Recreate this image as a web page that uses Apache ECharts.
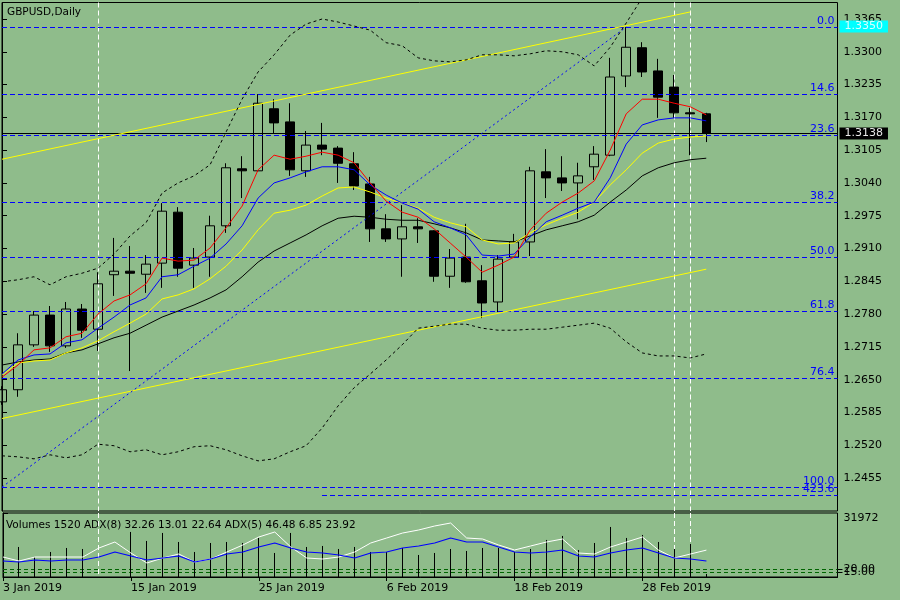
<!DOCTYPE html>
<html>
<head>
<meta charset="utf-8">
<title>GBPUSD,Daily</title>
<script src="https://cdn.jsdelivr.net/npm/echarts@6/dist/echarts.min.js"></script>
<style>
  html, body { margin: 0; padding: 0; background: #8fbc8b; }
  #root { width: 900px; height: 600px; }
</style>
</head>
<body>
<div id="root"></div>
<script>
// daily bars, 3 Jan - 6 Mar 2019
const dates = ['3 Jan 2019','4 Jan 2019','7 Jan 2019','8 Jan 2019','9 Jan 2019','10 Jan 2019','11 Jan 2019',
  '14 Jan 2019','15 Jan 2019','16 Jan 2019','17 Jan 2019','18 Jan 2019','21 Jan 2019','22 Jan 2019','23 Jan 2019',
  '24 Jan 2019','25 Jan 2019','28 Jan 2019','29 Jan 2019','30 Jan 2019','31 Jan 2019','1 Feb 2019','4 Feb 2019',
  '5 Feb 2019','6 Feb 2019','7 Feb 2019','8 Feb 2019','11 Feb 2019','12 Feb 2019','13 Feb 2019','14 Feb 2019',
  '15 Feb 2019','18 Feb 2019','19 Feb 2019','20 Feb 2019','21 Feb 2019','22 Feb 2019','25 Feb 2019','26 Feb 2019',
  '27 Feb 2019','28 Feb 2019','1 Mar 2019','4 Mar 2019','5 Mar 2019','6 Mar 2019']

const opens = [1.2606,1.2630,1.2719,1.2778,1.2717,1.2790,1.2750,1.2858,1.2865,1.2859,1.2881,1.2982,1.2877,1.2893,1.2955,
  1.3068,1.3064,1.3187,1.3161,1.3064,1.3115,1.3109,1.3078,1.3038,1.2949,1.2929,1.2953,1.2945,1.2855,1.2893,1.2846,
  1.2804,1.2893,1.2923,1.3062,1.3050,1.3040,1.3072,1.3095,1.3252,1.3308,1.3262,1.3230,1.3179,1.3177]
const highs = [1.2637,1.2742,1.2786,1.2796,1.2804,1.2800,1.2863,1.2931,1.2915,1.2897,1.3000,1.2992,1.2911,1.2975,1.3079,
  1.3093,1.3216,1.3206,1.3198,1.3143,1.3159,1.3113,1.3101,1.3052,1.2978,1.2996,1.2970,1.2946,1.2909,1.2959,1.2877,
  1.2897,1.2939,1.3072,1.3107,1.3093,1.3080,1.3113,1.3288,1.3349,1.3319,1.3286,1.3254,1.3189,1.3179]
const lows = [1.2600,1.2616,1.2715,1.2705,1.2713,1.2733,1.2707,1.2816,1.2667,1.2822,1.2832,1.2854,1.2832,1.2854,1.2941,
  1.3010,1.3062,1.3137,1.3054,1.3052,1.3095,1.3040,1.3026,1.2923,1.2923,1.2854,1.2921,1.2844,1.2832,1.2842,1.2772,
  1.2784,1.2892,1.2895,1.3010,1.3024,1.2968,1.3046,1.3093,1.3230,1.3250,1.3169,1.3169,1.3095,1.3121]
const closes = [1.2630,1.2719,1.2778,1.2717,1.2790,1.2748,1.2840,1.2865,1.2861,1.2879,1.2984,1.2871,1.2891,1.2955,1.3070,
  1.3064,1.3198,1.3159,1.3066,1.3115,1.3107,1.3079,1.3034,1.2949,1.2929,1.2953,1.2949,1.2855,1.2891,1.2844,1.2802,
  1.2889,1.2923,1.3064,1.3050,1.3040,1.3054,1.3097,1.3250,1.3309,1.3260,1.3210,1.3179,1.3177,1.3138]

// moving averages
const maRed = [1.2655,1.2679,1.2709,1.2713,1.2735,1.2742,1.2780,1.2806,1.2818,1.2840,1.2891,1.2885,1.2887,1.2911,1.2951,
  1.2994,1.3066,1.3095,1.3087,1.3093,1.3101,1.3095,1.3080,1.3040,1.3004,1.2982,1.2972,1.2949,1.2921,1.2893,1.2863,
  1.2877,1.2893,1.2947,1.2980,1.3002,1.3020,1.3044,1.3105,1.3177,1.3206,1.3206,1.3198,1.3191,1.3175]
const maBlue = [1.2661,1.2689,1.2699,1.2701,1.2723,1.2729,1.2752,1.2774,1.2798,1.2812,1.2854,1.2858,1.2875,1.2891,1.2919,
  1.2955,1.3010,1.3040,1.3050,1.3062,1.3072,1.3072,1.3066,1.3036,1.3016,1.3000,1.2988,1.2963,1.2951,1.2937,1.2897,
  1.2895,1.2899,1.2933,1.2963,1.2976,1.2990,1.3002,1.3050,1.3117,1.3155,1.3165,1.3169,1.3169,1.3163]
const maYellow = [1.2659,1.2683,1.2687,1.2689,1.2703,1.2713,1.2727,1.2745,1.2762,1.2780,1.2810,1.2818,1.2830,1.2850,1.2875,
  1.2907,1.2947,1.2980,1.2986,1.2996,1.3014,1.3030,1.3032,1.3022,1.3010,1.3000,1.2990,1.2972,1.2961,1.2953,1.2927,
  1.2919,1.2921,1.2941,1.2957,1.2970,1.2982,1.3002,1.3036,1.3066,1.3099,1.3119,1.3127,1.3131,1.3133]
const maBlack = [1.2679,1.2685,1.2689,1.2691,1.2703,1.2709,1.2721,1.2733,1.2742,1.2758,1.2774,1.2786,1.2798,1.2812,1.2828,
  1.2854,1.2883,1.2905,1.2921,1.2937,1.2955,1.2970,1.2974,1.2972,1.2968,1.2966,1.2966,1.2959,1.2951,1.2941,1.2927,
  1.2925,1.2923,1.2935,1.2947,1.2955,1.2963,1.2976,1.3002,1.3026,1.3054,1.3070,1.3080,1.3086,1.3089]

// bollinger bands
const bbUpper = [1.2844,1.2848,1.2854,1.2838,1.2854,1.2861,1.2871,1.2899,1.2935,1.2961,1.3020,1.3040,1.3054,1.3076,1.3141,
  1.3206,1.3260,1.3294,1.3333,1.3355,1.3365,1.3359,1.3351,1.3343,1.3318,1.3312,1.3288,1.3282,1.3280,1.3284,1.3294,
  1.3294,1.3292,1.3296,1.3302,1.3300,1.3294,1.3272,1.3309,1.3357,1.3407,1.3433,1.3446,1.3454,1.3458]
const bbLower = [1.2499,1.2497,1.2493,1.2501,1.2495,1.2501,1.2522,1.2519,1.2507,1.2511,1.2501,1.2507,1.2517,1.2519,1.2511,
  1.2499,1.2489,1.2493,1.2507,1.2519,1.2554,1.2598,1.2634,1.2661,1.2689,1.2719,1.2752,1.2756,1.2760,1.2760,1.2752,
  1.2748,1.2748,1.2750,1.2750,1.2754,1.2758,1.2762,1.2752,1.2725,1.2703,1.2697,1.2697,1.2693,1.2701]

// lower panel
const volumes = [null,15000,10000,12500,14500,14000,null,null,22500,18000,22000,17500,12500,17000,17500,17000,19500,
  12000,22000,15000,15500,14000,15000,12500,12500,14500,11000,12000,14000,13000,14500,14500,12500,14000,18500,20500,
  13500,17000,25000,19500,21000,17500,14000,16500,1520]
const adxWhite = [24.0,19.2,24.0,24.0,24.0,24.0,34.8,42.0,28.8,16.8,22.8,27.6,18.0,21.6,30.0,38.4,48.0,54.0,36.0,22.8,
  21.6,24.0,30.0,40.8,46.8,52.8,56.4,61.2,64.8,46.8,45.6,38.4,32.4,37.2,42.0,45.6,28.8,27.6,36.0,42.0,48.0,32.4,22.8,
  27.6,32.26]
const adxBlue = [19.2,18.0,20.4,19.2,20.4,20.4,24.0,30.0,25.2,20.4,22.8,25.2,18.0,21.6,27.6,30.0,36.0,40.8,34.8,30.0,
  28.8,26.4,22.8,28.8,30.0,34.8,37.2,40.8,46.8,42.0,42.0,36.0,30.0,28.8,30.0,32.4,25.2,24.0,28.8,32.4,34.8,28.8,22.8,
  21.6,19.2]
const adxLevels = [9.6, 6.0]
const adxLevelLabels = ['20.00', '15.00']
const volumeMax = 31972
const adx8 = [32.26, 13.01, 22.64]
const adx5 = [46.48, 6.85, 23.92]

// axis labels
const priceTicks = [1.3365,1.3300,1.3235,1.3170,1.3105,1.3040,1.2975,1.2910,1.2845,1.2780,1.2715,1.2650,1.2585,1.2520,1.2455]
const dateTicks = [0, 8, 16, 24, 32, 40]

// objects on the chart
const fibHigh = 1.3349
const fibLow = 1.2437
const fibLevels = [0.0, 14.6, 23.6, 38.2, 50.0, 61.8, 76.4, 100.0]
const fibExtLevel = 423.6
const fibExtPrice = 1.2421
const fibExtStart = 20
const lastPrice = 1.3138
const markedPrice = 1.3350
const upperChannel = [[0, 1.3087], [43, 1.3379]]
const lowerChannel = [[0, 1.2573], [44, 1.2869]]
const fibAnchor = [[0, 1.2437], [39, 1.3349]]
const vLines = [6, 42, 43]

const FONT = 'DejaVu Sans'
const XMAX = 52.2
const ADXMAX = 76.8

const pairs = arr => arr.map((v, i) => [i, v])
const candles = dates.map((d, i) => [i, opens[i], closes[i], lows[i], highs[i]])
const volData = volumes.map((v, i) => [i, v]).filter(p => p[1] != null)
const fibData = fibLevels.map(lv => [0, fibHigh - lv / 100 * (fibHigh - fibLow), lv])
  .concat([[fibExtStart, fibExtPrice, fibExtLevel]])

// crisp 1px horizontal level line (optionally labelled at the right end)
function hLine (stroke, dash, labelColor) {
  return function (params, api) {
    const cs = params.coordSys
    const pt = api.coord([api.value(0), api.value(1)])
    const y = Math.round(pt[1] - 0.5) + 0.5
    const x0 = Math.round(pt[0])
    const x1 = cs.x + cs.width
    const children = [{ type: 'line', shape: { x1: x0, y1: y, x2: x1, y2: y },
      style: { stroke: stroke, lineWidth: 1, lineDash: dash } }]
    if (labelColor) {
      children.push({ type: 'text', style: { text: api.value(2).toFixed(1), x: x1 - 3, y: y - 1,
        align: 'right', verticalAlign: 'bottom', fill: labelColor, font: '11px ' + FONT } })
    }
    return { type: 'group', children: children }
  }
}

// crisp vertical dashed line over the whole grid
function vLine (params, api) {
  const cs = params.coordSys
  const x = Math.round(api.coord([api.value(0), 0])[0] - 0.5) + 0.5
  return { type: 'line', shape: { x1: x, y1: cs.y, x2: x, y2: cs.y + cs.height },
    style: { stroke: '#fff', lineWidth: 1, lineDash: [5, 3] } }
}

// volume stick
function volStick (params, api) {
  const top = api.coord([api.value(0), api.value(1)])
  const base = api.coord([api.value(0), 0])
  const x = Math.round(top[0] - 0.5) + 0.5
  return { type: 'line', shape: { x1: x, y1: base[1], x2: x, y2: top[1] },
    style: { stroke: '#000', lineWidth: 1 } }
}

// one labelled level per axis so the two overlapping labels both show
function levelAxis (i) {
  return { type: 'value', gridIndex: 1, position: 'right', min: 0, max: ADXMAX,
    axisLine: { show: false },
    axisTick: { show: true, length: 5, customValues: [adxLevels[i]], lineStyle: { color: '#000' } },
    axisLabel: { show: true, customValues: [adxLevels[i]], margin: 6, color: '#000', fontSize: 11, fontFamily: FONT,
      formatter: () => adxLevelLabels[i] },
    splitLine: { show: false } }
}

const chart = echarts.init(document.getElementById('root'), null, { renderer: 'canvas' })

const option = {
  animation: false,
  backgroundColor: '#8fbc8b',
  textStyle: { fontFamily: FONT },
  graphic: [
    { type: 'text', left: 7, top: 7, style: { text: 'GBPUSD,Daily', font: '10.5px ' + FONT, fill: '#000' } },
    { type: 'text', left: 6, top: 520, style: {
      text: 'Volumes ' + volumes[volumes.length - 1] + ' ADX(8) ' + adx8.join(' ') + ' ADX(5) ' + adx5.join(' '),
      font: '10.5px ' + FONT, fill: '#000' } }
  ],
  grid: [
    { left: 2, right: 62.5, top: 2.5, height: 508.5, show: true, borderColor: '#000', borderWidth: 1 },
    { left: 2, right: 62.5, top: 513, height: 64, show: true, borderColor: '#000', borderWidth: 1 }
  ],
  xAxis: [
    { type: 'value', gridIndex: 0, min: 0, max: XMAX, axisLine: { show: false }, axisTick: { show: false },
      axisLabel: { show: false }, splitLine: { show: false } },
    { type: 'value', gridIndex: 1, min: 0, max: XMAX,
      axisLine: { show: true, lineStyle: { color: '#000' } },
      axisTick: { show: true, length: 4, customValues: dateTicks, lineStyle: { color: '#000' } },
      axisLabel: { show: true, customValues: dateTicks, align: 'left', margin: 6, color: '#000', fontSize: 11,
        fontFamily: FONT, formatter: v => dates[Math.round(v)] || '' },
      splitLine: { show: false } }
  ],
  yAxis: [
    { type: 'value', gridIndex: 0, position: 'right', min: 1.23896, max: 1.33977,
      axisLine: { show: true, lineStyle: { color: '#000' } },
      axisTick: { show: true, length: 5, customValues: priceTicks, lineStyle: { color: '#000' } },
      axisLabel: { show: true, customValues: priceTicks, margin: 6, color: '#000', fontSize: 11, fontFamily: FONT,
        showMinLabel: true, showMaxLabel: true, formatter: v => v.toFixed(4) },
      splitLine: { show: false } },
    { type: 'value', gridIndex: 1, position: 'right', min: 0, max: volumeMax,
      axisLine: { show: true, lineStyle: { color: '#000' } },
      axisTick: { show: true, length: 5, customValues: [volumeMax], lineStyle: { color: '#000' } },
      axisLabel: { show: true, customValues: [volumeMax], verticalAlign: 'top', margin: 6, color: '#000',
        fontSize: 11, fontFamily: FONT, formatter: v => String(v) },
      splitLine: { show: false } },
    levelAxis(0),
    levelAxis(1)
  ],
  series: [
    // vertical dashed lines
    { type: 'custom', xAxisIndex: 0, yAxisIndex: 0, z: 1, silent: true, renderItem: vLine,
      data: vLines.map(v => [v, 0]), encode: { x: 0, y: 1 } },
    { type: 'custom', xAxisIndex: 1, yAxisIndex: 1, z: 1, silent: true, renderItem: vLine,
      data: vLines.map(v => [v, 0]), encode: { x: 0, y: 1 } },
    // last price line
    { type: 'custom', xAxisIndex: 0, yAxisIndex: 0, z: 2, silent: true, renderItem: hLine('#000', null, null),
      data: [[0, lastPrice]], encode: { x: 0, y: 1 } },
    // candles
    { type: 'candlestick', xAxisIndex: 0, yAxisIndex: 0, z: 3, silent: true,
      dimensions: ['x', 'open', 'close', 'lowest', 'highest'],
      encode: { x: 0, y: [1, 2, 3, 4] },
      data: candles, barWidth: 9,
      itemStyle: { color: 'transparent', color0: '#000', borderColor: '#000', borderColor0: '#000',
        borderColorDoji: '#000', borderWidth: 1 },
      markLine: { symbol: 'none', silent: true, animation: false, precision: 6,
        lineStyle: { color: 'rgba(0,0,0,0)', width: 1 },
        data: [
          { yAxis: lastPrice,
            label: { show: true, position: 'end', distance: 2, formatter: lastPrice.toFixed(4),
              backgroundColor: '#000', color: '#e8e8e8', padding: [1, 5, 0, 5], fontSize: 11, fontFamily: FONT } },
          { yAxis: markedPrice,
            label: { show: true, position: 'end', distance: 2, formatter: markedPrice.toFixed(4),
              backgroundColor: '#00ffff', color: '#d8ffff', padding: [1, 5, 0, 5], fontSize: 11, fontFamily: FONT } }
        ] } },
    // fibonacci levels
    { type: 'custom', xAxisIndex: 0, yAxisIndex: 0, z: 4, silent: true,
      renderItem: hLine('#0000ff', [5, 3], '#0000ff'),
      dimensions: ['x', 'price', 'level'], data: fibData, encode: { x: 0, y: 1 } },
    // trend lines
    { type: 'line', xAxisIndex: 0, yAxisIndex: 0, data: upperChannel, z: 4, symbol: 'none', silent: true,
      lineStyle: { color: '#ffff00', width: 1 } },
    { type: 'line', xAxisIndex: 0, yAxisIndex: 0, data: lowerChannel, z: 4, symbol: 'none', silent: true,
      lineStyle: { color: '#ffff00', width: 1 } },
    { type: 'line', xAxisIndex: 0, yAxisIndex: 0, data: fibAnchor, z: 4, symbol: 'none', silent: true,
      lineStyle: { color: '#0000ff', width: 1, type: [2, 3] } },
    // bands
    { type: 'line', xAxisIndex: 0, yAxisIndex: 0, data: pairs(bbUpper), z: 5, symbol: 'none', silent: true,
      lineStyle: { color: '#000', width: 1, type: [3, 3] } },
    { type: 'line', xAxisIndex: 0, yAxisIndex: 0, data: pairs(bbLower), z: 5, symbol: 'none', silent: true,
      lineStyle: { color: '#000', width: 1, type: [3, 3] } },
    // moving averages
    { type: 'line', xAxisIndex: 0, yAxisIndex: 0, data: pairs(maBlack), z: 5, symbol: 'none', silent: true,
      lineStyle: { color: '#000', width: 1 } },
    { type: 'line', xAxisIndex: 0, yAxisIndex: 0, data: pairs(maYellow), z: 5, symbol: 'none', silent: true,
      lineStyle: { color: '#ffff00', width: 1 } },
    { type: 'line', xAxisIndex: 0, yAxisIndex: 0, data: pairs(maBlue), z: 5, symbol: 'none', silent: true,
      lineStyle: { color: '#0000ff', width: 1 } },
    { type: 'line', xAxisIndex: 0, yAxisIndex: 0, data: pairs(maRed), z: 5, symbol: 'none', silent: true,
      lineStyle: { color: '#ff0000', width: 1 } },
    // lower panel level lines
    { type: 'custom', xAxisIndex: 1, yAxisIndex: 2, z: 2, silent: true, renderItem: hLine('#006400', [4, 3], null),
      data: adxLevels.map(v => [0, v]), encode: { x: 0, y: 1 } },
    // volumes
    { type: 'custom', xAxisIndex: 1, yAxisIndex: 1, z: 3, silent: true, renderItem: volStick,
      data: volData, encode: { x: 0, y: 1 } },
    // adx lines
    { type: 'line', xAxisIndex: 1, yAxisIndex: 2, data: pairs(adxWhite), z: 4, symbol: 'none', silent: true,
      lineStyle: { color: '#fff', width: 1 } },
    { type: 'line', xAxisIndex: 1, yAxisIndex: 2, data: pairs(adxBlue), z: 4, symbol: 'none', silent: true,
      lineStyle: { color: '#0000ff', width: 1.2 } }
  ]
}

chart.setOption(option)
</script>
</body>
</html>
